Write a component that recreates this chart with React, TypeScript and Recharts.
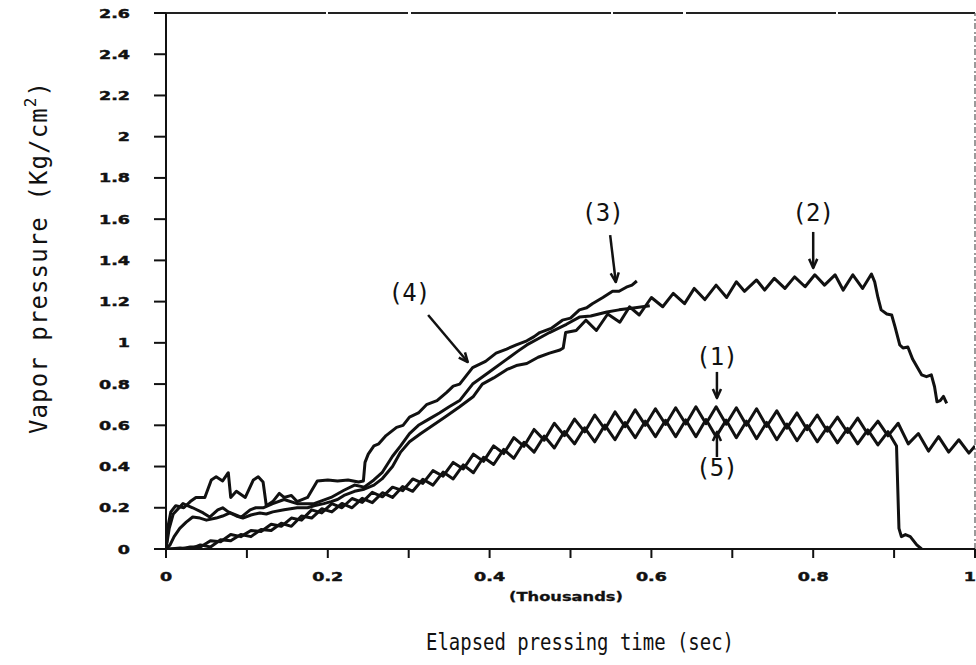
import React from 'react';
import { LineChart, Line, XAxis, YAxis, ReferenceLine, ReferenceDot } from 'recharts';

// time in seconds, pressure in Kg/cm2
const curve1: [number, number][] = [
  [0, 0], [5, 0], [17.5, 0], [30, 0.01], [42.5, 0.01], [55, 0.04], [67.5, 0.035], [80, 0.07], [92.5, 0.06],
  [105, 0.09], [117.5, 0.085], [130, 0.12], [142.5, 0.11], [155, 0.15], [167.5, 0.14], [180, 0.19], [192.5, 0.175],
  [205, 0.22], [217.5, 0.2], [230, 0.245], [242.5, 0.226], [255, 0.275], [267.5, 0.253], [280, 0.3], [292.5, 0.283],
  [305, 0.34], [317.5, 0.318], [330, 0.38], [342.5, 0.353], [355, 0.42], [367.5, 0.388], [380, 0.46], [392.5, 0.425],
  [405, 0.5], [417.5, 0.463], [430, 0.54], [442.5, 0.498], [455, 0.58], [467.5, 0.528], [480, 0.61], [492.5, 0.55],
  [505, 0.63], [517.5, 0.568], [530, 0.65], [542.5, 0.581], [555, 0.665], [567.5, 0.593], [580, 0.675], [592.5, 0.6],
  [605, 0.68], [617.5, 0.604], [630, 0.685], [642.5, 0.606], [655, 0.69], [667.5, 0.608], [680, 0.69], [692.5, 0.605],
  [705, 0.685], [717.5, 0.6], [730, 0.68], [742.5, 0.594], [755, 0.67], [767.5, 0.586], [780, 0.66], [792.5, 0.579],
  [805, 0.65], [817.5, 0.571], [830, 0.64], [842.5, 0.565], [855, 0.635], [867.5, 0.558], [880, 0.62], [892.5, 0.549],
  [905, 0.61], [917.5, 0.51], [930, 0.56], [942.5, 0.475], [955, 0.545], [967.5, 0.47], [980, 0.53], [992.5, 0.465],
  [1000, 0.5],
];

const curve2: [number, number][] = [
  [0, 0], [5, 0.02], [10, 0.06], [17, 0.1], [25, 0.13], [33, 0.155], [42, 0.15], [50, 0.14], [62, 0.15], [70, 0.16],
  [79, 0.175], [87, 0.16], [95, 0.15], [105, 0.165], [116, 0.175], [124, 0.17], [132, 0.18], [146, 0.19], [162, 0.2],
  [175, 0.2], [183, 0.21], [195, 0.22], [204, 0.23], [212, 0.24], [220, 0.26], [233, 0.28], [245, 0.29], [257, 0.31],
  [267, 0.34], [280, 0.4], [290, 0.47], [301, 0.52], [315, 0.56], [330, 0.6], [345, 0.64], [363, 0.69], [380, 0.74],
  [391, 0.8], [405, 0.83], [421, 0.87], [433, 0.89], [446, 0.9], [460, 0.93], [474, 0.95], [487, 0.965], [491, 0.975],
  [494, 1.05], [507, 1.06], [519, 1.11], [532, 1.06], [546, 1.14], [561, 1.1], [573, 1.175], [585, 1.135], [600, 1.22],
  [614, 1.175], [627, 1.24], [641, 1.19], [653, 1.264], [666, 1.21], [680, 1.28], [693, 1.22], [705, 1.296], [715, 1.25],
  [730, 1.305], [740, 1.256], [752, 1.313], [765, 1.264], [777, 1.32], [790, 1.272], [802, 1.33], [814, 1.28],
  [827, 1.33], [837, 1.256], [849, 1.33], [861, 1.264], [872, 1.334], [876, 1.296], [880, 1.22], [884, 1.16],
  [891, 1.14], [897, 1.135], [901, 1.08], [907, 0.99], [911, 0.975], [917, 0.98], [923, 0.92], [934, 0.845],
  [940, 0.836], [946, 0.845], [950, 0.787], [953, 0.714], [957, 0.72], [961, 0.74], [965, 0.706],
];

const curve3: [number, number][] = [
  [0, 0], [3, 0.12], [6, 0.18], [12, 0.21], [22, 0.2], [30, 0.23], [37, 0.25], [48, 0.25], [56, 0.335], [62, 0.35],
  [70, 0.33], [77, 0.37], [80, 0.25], [87, 0.28], [98, 0.25], [108, 0.335], [114, 0.35], [120, 0.325], [124, 0.21],
  [132, 0.23], [140, 0.27], [146, 0.25], [155, 0.26], [162, 0.23], [175, 0.25], [187, 0.33], [200, 0.335], [212, 0.33],
  [225, 0.335], [238, 0.325], [244, 0.33], [246, 0.42], [250, 0.46], [257, 0.5], [263, 0.51], [272, 0.55], [285, 0.59],
  [293, 0.6], [301, 0.64], [312, 0.66], [322, 0.7], [335, 0.72], [347, 0.76], [355, 0.79], [363, 0.8], [371, 0.84],
  [379, 0.88], [395, 0.91], [408, 0.95], [421, 0.97], [433, 0.99], [446, 1.01], [455, 1.03], [462, 1.05], [476, 1.07],
  [490, 1.11], [500, 1.12], [511, 1.16], [520, 1.17], [527, 1.19], [540, 1.22], [552, 1.25], [560, 1.25], [569, 1.27],
  [576, 1.28], [582, 1.3],
];

const curve4: [number, number][] = [
  [0, 0], [4, 0.1], [9, 0.17], [21, 0.22], [33, 0.2], [46, 0.175], [54, 0.155], [64, 0.19], [70, 0.2], [77, 0.18],
  [93, 0.155], [104, 0.19], [111, 0.2], [120, 0.2], [132, 0.22], [146, 0.24], [162, 0.22], [183, 0.22], [204, 0.25],
  [220, 0.285], [233, 0.31], [245, 0.3], [257, 0.335], [267, 0.37], [280, 0.45], [290, 0.5], [301, 0.56], [312, 0.6],
  [325, 0.63], [338, 0.66], [350, 0.69], [363, 0.72], [379, 0.8], [400, 0.86], [421, 0.92], [435, 0.96], [446, 0.99],
  [460, 1.02], [474, 1.05], [495, 1.09], [511, 1.125], [525, 1.13], [545, 1.15], [560, 1.16], [580, 1.17], [598, 1.18],
];

const curve5: [number, number][] = [
  [0, 0], [5, 0], [17.5, 0.005], [30, 0], [42.5, 0.02], [55, 0.01], [67.5, 0.045], [80, 0.04], [92.5, 0.07],
  [105, 0.06], [117.5, 0.095], [130, 0.09], [142.5, 0.125], [155, 0.11], [167.5, 0.16], [180, 0.15], [192.5, 0.195],
  [205, 0.18], [217.5, 0.221], [230, 0.2], [242.5, 0.246], [255, 0.225], [267.5, 0.273], [280, 0.25], [292.5, 0.303],
  [305, 0.28], [317.5, 0.338], [330, 0.31], [342.5, 0.373], [355, 0.34], [367.5, 0.408], [380, 0.37], [392.5, 0.445],
  [405, 0.41], [417.5, 0.483], [430, 0.44], [442.5, 0.518], [455, 0.47], [467.5, 0.548], [480, 0.49], [492.5, 0.57],
  [505, 0.51], [517.5, 0.588], [530, 0.52], [542.5, 0.601], [555, 0.53], [567.5, 0.613], [580, 0.54], [592.5, 0.62],
  [605, 0.545], [617.5, 0.624], [630, 0.545], [642.5, 0.626], [655, 0.545], [667.5, 0.628], [680, 0.545], [692.5, 0.625],
  [705, 0.54], [717.5, 0.62], [730, 0.535], [742.5, 0.614], [755, 0.53], [767.5, 0.606], [780, 0.525], [792.5, 0.599],
  [805, 0.52], [817.5, 0.591], [830, 0.515], [842.5, 0.585], [855, 0.51], [867.5, 0.578], [880, 0.505], [892.5, 0.569],
  [903, 0.5], [906, 0.1], [909, 0.06], [914, 0.07], [920, 0.06], [928, 0.02], [934, 0],
];

const xTicks = [0, 100, 200, 300, 400, 500, 600, 700, 800, 900, 1000];
const yTicks = [0, 0.2, 0.4, 0.6, 0.8, 1, 1.2, 1.4, 1.6, 1.8, 2, 2.2, 2.4, 2.6];

// curve labels: text anchor point and arrow (from -> to), in data units
const noteLabels = ['(1)', '(2)', '(3)', '(4)', '(5)'];
const noteText = [[681, 0.931], [800, 1.63], [540, 1.63], [301, 1.242], [681, 0.393]];
const noteArrows = [
  [[681, 0.859], [681, 0.732]],
  [[800, 1.538], [800, 1.363]],
  [[549, 1.523], [556, 1.295]],
  [[324, 1.135], [373, 0.907]],
  [[681, 0.446], [681, 0.568]],
];

const series = [curve1, curve2, curve3, curve4, curve5];
const toRows = (pts: [number, number][]) => pts.map(([t, y]) => ({ t, y }));

const INK = '#111';
const MONO = '"DejaVu Sans Mono", monospace';

const fmtY = (v: number) => (Number.isInteger(v) ? String(v) : v.toFixed(1));
const fmtX = (v: number) => (v % 200 === 0 ? String(v / 1000) : '');

const tickFont = {
  fontFamily: 'DejaVu Sans',
  fontWeight: 700,
  fontSize: 14,
  fill: INK,
  stroke: INK,
  strokeWidth: 0.5,
};

const YTick = ({ x, y, payload }: any) => (
  <g transform={`translate(${x},${y})`}>
    <text transform="scale(1.25,0.9)" textAnchor="end" dy="0.36em" {...tickFont}>
      {fmtY(payload.value)}
    </text>
  </g>
);

const XTick = ({ x, y, payload }: any) => {
  const s = fmtX(payload.value);
  if (!s) return <g />;
  // the last label sits on the right edge, keep it inside the page
  const anchor = payload.value === 1000 ? 'end' : 'middle';
  const dx = payload.value === 1000 ? 1 : 0;
  return (
    <g transform={`translate(${x + dx},${y})`}>
      <text transform="scale(1.25,0.9)" textAnchor={anchor} dy="0.75em" {...tickFont}>
        {s}
      </text>
    </g>
  );
};

const arrowShape = (p: any) => {
  const { x1, y1, x2, y2 } = p;
  const ang = Math.atan2(y2 - y1, x2 - x1);
  const len = 10;
  const a1 = ang + Math.PI - 0.42;
  const a2 = ang + Math.PI + 0.42;
  const head = `${x2 + len * Math.cos(a1)},${y2 + len * Math.sin(a1)} ${x2},${y2} ${x2 + len * Math.cos(a2)},${y2 + len * Math.sin(a2)}`;
  return (
    <g>
      <line x1={x1} y1={y1} x2={x2} y2={y2} stroke={INK} strokeWidth={2.5} />
      <polyline points={head} fill="none" stroke={INK} strokeWidth={2.5} strokeLinejoin="round" />
    </g>
  );
};

const noteShape = (label: string) => (p: any) => (
  <text x={p.cx} y={p.cy} textAnchor="middle" dominantBaseline="central" fontFamily={MONO} fontSize={24} fill={INK}
    textLength={42} lengthAdjust="spacing">
    {label}
  </text>
);

export default function App() {
  return (
    <div style={{ position: 'fixed', left: 0, top: 0, width: 976, height: 665, background: '#fff' }}>
      <LineChart width={976} height={665} margin={{ top: 13, right: 1, bottom: 0, left: 0 }}>
        <XAxis
          type="number"
          dataKey="t"
          domain={[0, 1000]}
          ticks={xTicks}
          interval={0}
          height={116}
          tickSize={9}
          tickMargin={14}
          tick={<XTick />}
          axisLine={{ stroke: INK, strokeWidth: 2 }}
          tickLine={{ stroke: INK, strokeWidth: 2 }}
          allowDataOverflow
        />
        <YAxis
          type="number"
          domain={[0, 2.6]}
          ticks={yTicks}
          interval={0}
          width={166}
          tickSize={12}
          tickMargin={24}
          tick={<YTick />}
          axisLine={{ stroke: INK, strokeWidth: 2 }}
          tickLine={{ stroke: INK, strokeWidth: 2 }}
          allowDataOverflow
        />
        <ReferenceLine y={2.6} stroke="#222" strokeWidth={2} strokeDasharray="160 2 80 3 200 2 70 3 150 2" />
        <ReferenceLine x={1000} stroke="#666" strokeWidth={1.3} strokeDasharray="6 2 2 3" />
        {series.map((pts, i) => (
          <Line
            key={i}
            data={toRows(pts)}
            dataKey="y"
            type="linear"
            stroke={INK}
            strokeWidth={3}
            strokeLinejoin="round"
            dot={false}
            activeDot={false}
            isAnimationActive={false}
          />
        ))}
        {noteArrows.map(([a, b], i) => (
          <ReferenceLine key={`a${i}`} segment={[{ x: a[0], y: a[1] }, { x: b[0], y: b[1] }]} shape={arrowShape} />
        ))}
        {noteText.map(([t, v], i) => (
          <ReferenceDot key={`n${i}`} x={t} y={v} r={0} shape={noteShape(noteLabels[i])} />
        ))}
      </LineChart>
      <svg width={976} height={665} style={{ position: 'absolute', left: 0, top: 0, pointerEvents: 'none' }}>
        <text x={566} y={601} textAnchor="middle" fontFamily="DejaVu Sans" fontWeight={700} fontSize={12.5} fill={INK}
          stroke={INK} strokeWidth={0.3} textLength={114} lengthAdjust="spacingAndGlyphs">
          (Thousands)
        </text>
        <text x={580} y={650} textAnchor="middle" fontFamily={MONO} fontSize={23} fill={INK}
          textLength={308} lengthAdjust="spacingAndGlyphs">
          Elapsed pressing time (sec)
        </text>
        <text transform="translate(47,258) rotate(-90)" textAnchor="middle" fontFamily={MONO} fontSize={24} fill={INK}
          textLength={352} lengthAdjust="spacing">
          Vapor pressure (Kg/cm<tspan dy={-11} fontSize={16}>2</tspan><tspan dy={11}>)</tspan>
        </text>
      </svg>
    </div>
  );
}
